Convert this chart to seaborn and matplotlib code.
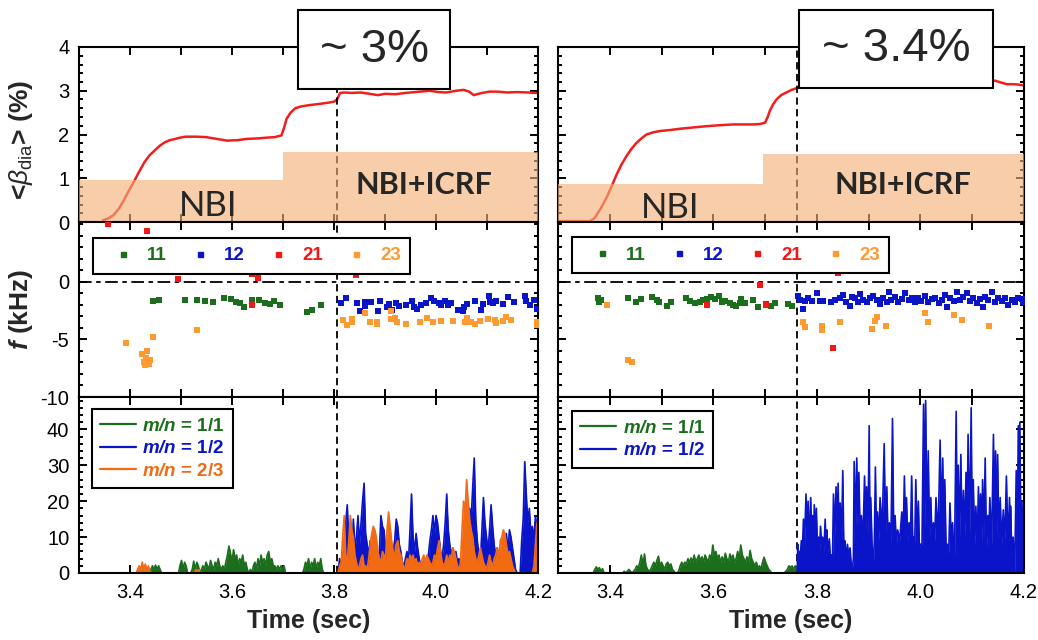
import numpy as np
import matplotlib
matplotlib.use("Agg")
import matplotlib.pyplot as plt
import seaborn as sns
from matplotlib.lines import Line2D
from matplotlib.patches import Rectangle

# ---------------- data ----------------
# top row: diamagnetic beta (%)
L_beta_t = [3.347, 3.357, 3.367, 3.378, 3.388, 3.398, 3.408, 3.418, 3.428, 3.438, 3.448, 3.458, 3.468,
            3.478, 3.489, 3.499, 3.509, 3.53, 3.549, 3.57, 3.59, 3.61, 3.63, 3.65, 3.67, 3.684, 3.697,
            3.702, 3.707, 3.715, 3.724, 3.735, 3.751, 3.765, 3.778, 3.79, 3.80, 3.806, 3.812, 3.82,
            3.835, 3.852, 3.87, 3.886, 3.90, 3.92, 3.94, 3.96, 3.987, 4.005, 4.02, 4.04, 4.054, 4.065,
            4.074, 4.09, 4.105, 4.12, 4.14, 4.16, 4.18, 4.198]
L_beta_v = [0.04, 0.08, 0.15, 0.3, 0.5, 0.72, 0.93, 1.15, 1.36, 1.52, 1.63, 1.74, 1.82, 1.87, 1.9,
            1.93, 1.95, 1.95, 1.94, 1.9, 1.86, 1.87, 1.9, 1.91, 1.93, 1.94, 1.98, 2.15, 2.36, 2.5, 2.6,
            2.64, 2.67, 2.69, 2.71, 2.73, 2.75, 2.8, 2.95, 2.96, 2.95, 2.96, 2.93, 2.9, 2.93, 2.92,
            2.95, 2.97, 3.0, 2.97, 2.96, 3.0, 3.02, 2.98, 2.9, 2.95, 2.98, 2.98, 2.96, 2.97, 2.96, 2.95]
R_beta_t = [3.30, 3.32, 3.34, 3.361, 3.368, 3.374, 3.383, 3.393, 3.403, 3.413, 3.422, 3.432, 3.441,
            3.451, 3.461, 3.471, 3.484, 3.497, 3.515, 3.535, 3.56, 3.587, 3.61, 3.638, 3.66, 3.677,
            3.69, 3.70, 3.705, 3.709, 3.715, 3.722, 3.731, 3.741, 3.751, 3.761, 3.78, 3.82, 3.87,
            3.92, 3.97, 4.02, 4.07, 4.11, 4.135, 4.144, 4.155, 4.167, 4.18, 4.19, 4.2]
R_beta_v = [0.02, 0.02, 0.02, 0.02, 0.06, 0.15, 0.32, 0.54, 0.8, 1.08, 1.3, 1.5, 1.66, 1.8, 1.91, 2.0,
            2.05, 2.08, 2.1, 2.13, 2.16, 2.19, 2.21, 2.23, 2.23, 2.23, 2.24, 2.27, 2.4, 2.54, 2.68, 2.8,
            2.9, 2.96, 3.02, 3.06, 3.15, 3.25, 3.32, 3.35, 3.36, 3.35, 3.32, 3.28, 3.25, 3.23, 3.19,
            3.15, 3.15, 3.14, 3.12]
# heating power bands (NBI, then NBI+ICRF)
L_band_t = [3.3, 3.7, 4.2]
L_band_v = [0.95, 1.6, 1.6]
R_band_t = [3.3, 3.695, 4.2]
R_band_v = [0.88, 1.55, 1.55]
L_icrf_t = 3.805
R_icrf_t = 3.762
beta_labels = ["~ 3%", "~ 3.4%"]

# middle row: mode frequency (kHz)
L11_ft = [3.445, 3.456, 3.507, 3.532, 3.548, 3.563, 3.584, 3.599, 3.607, 3.616, 3.624, 3.640, 3.653,
          3.665, 3.675, 3.682, 3.695, 3.747, 3.757, 3.774]
L11_f = [-1.70, -1.61, -1.55, -1.55, -1.67, -1.78, -1.37, -1.49, -1.75, -1.84, -2.19, -1.61, -1.55,
         -1.81, -1.93, -1.70, -1.99, -2.63, -2.40, -2.05]
L12_ft = [3.814, 3.824, 3.845, 3.850, 3.860, 3.861, 3.873, 3.886, 3.891, 3.903, 3.907, 3.914, 3.922,
          3.927, 3.942, 3.952, 3.957, 3.963, 3.971, 3.981, 3.990, 3.996, 4.006, 4.010, 4.017, 4.024,
          4.029, 4.044, 4.052, 4.055, 4.061, 4.076, 4.089, 4.092, 4.104, 4.105, 4.112, 4.117, 4.131,
          4.142, 4.153, 4.174, 4.177, 4.184, 4.193, 4.199]
L12_f = [-1.84, -1.40, -1.84, -2.49, -1.75, -2.11, -1.75, -2.54, -1.67, -2.19, -1.96, -2.40, -1.81,
         -2.11, -1.99, -1.70, -2.19, -2.34, -2.05, -1.84, -1.40, -1.67, -1.81, -2.05, -1.70, -1.99,
         -1.84, -2.40, -2.49, -2.14, -1.90, -1.67, -2.40, -1.90, -1.26, -1.75, -1.84, -1.70, -1.90,
         -1.32, -1.75, -1.23, -1.70, -2.05, -1.61, -2.34]
L21_ft = [3.357, 3.434, 3.495, 3.640, 3.651, 3.640, 3.843]
L21_f = [5.05, 4.45, 0.26, 0.72, 0.32, -1.98, 0.63]
L23_ft = [3.393, 3.445, 3.424, 3.434, 3.427, 3.437, 3.431, 3.439, 3.430, 3.532,
          3.818, 3.826, 3.835, 3.835, 3.860, 3.870, 3.885, 3.885, 3.911, 3.911, 3.920, 3.924, 3.942,
          3.968, 3.982, 3.994, 4.009, 4.033, 4.056, 4.061, 4.069, 4.076, 4.086, 4.102, 4.115, 4.117,
          4.131, 4.138, 4.148, 4.199, 4.199]
L23_f = [-5.27, -4.81, -6.3, -6.0, -7.0, -7.1, -6.6, -6.8, -7.2, -4.16,
         -3.27, -3.74, -3.22, -3.51, -2.69, -3.51, -3.45, -3.65, -2.57, -3.22, -3.16, -3.51, -3.65,
         -3.51, -3.13, -3.51, -3.36, -3.36, -3.51, -3.16, -3.51, -3.65, -3.42, -3.22, -3.30, -3.60,
         -3.36, -3.07, -3.30, -3.45, -3.74]

R11_ft = [3.377, 3.380, 3.384, 3.435, 3.451, 3.461, 3.482, 3.492, 3.496, 3.511, 3.519, 3.548, 3.554,
          3.565, 3.574, 3.580, 3.587, 3.595, 3.603, 3.610, 3.616, 3.622, 3.632, 3.638, 3.644, 3.651,
          3.654, 3.661, 3.677, 3.686, 3.702, 3.712, 3.719, 3.744, 3.751]
R11_f = [-1.37, -1.71, -1.57, -1.43, -1.71, -1.51, -1.29, -1.57, -1.71, -2.06, -1.71, -1.43, -1.66,
         -1.80, -1.71, -1.57, -1.49, -1.31, -1.49, -1.20, -1.71, -1.66, -1.86, -2.00, -2.06, -1.80,
         -1.49, -1.86, -1.57, -2.14, -1.94, -2.06, -1.80, -1.91, -2.06]
R12_ft = [3.764, 3.767, 3.774, 3.777, 3.783, 3.790, 3.800, 3.806, 3.812, 3.828, 3.835, 3.845, 3.851,
          3.857, 3.863, 3.867, 3.874, 3.880, 3.883, 3.890, 3.896, 3.903, 3.909, 3.917, 3.922, 3.928,
          3.935, 3.940, 3.944, 3.951, 3.957, 3.964, 3.970, 3.977, 3.983, 3.989, 3.996, 4.002, 4.009,
          4.015, 4.022, 4.028, 4.035, 4.041, 4.047, 4.052, 4.057, 4.064, 4.070, 4.076, 4.083, 4.089,
          4.096, 4.102, 4.109, 4.115, 4.120, 4.125, 4.131, 4.138, 4.144, 4.150, 4.157, 4.163, 4.170,
          4.176, 4.183, 4.189, 4.196, 4.199]
R12_f = [-1.20, -1.57, -2.34, -1.63, -1.43, -1.63, -0.94, -1.63, -1.63, -1.71, -1.57, -1.43, -1.14,
         -1.71, -2.09, -1.29, -1.43, -1.71, -1.06, -1.57, -1.77, -1.43, -1.20, -1.57, -1.91, -1.43,
         -1.71, -0.91, -1.57, -1.29, -1.71, -1.49, -1.00, -1.57, -1.37, -1.71, -1.43, -1.66, -1.20,
         -1.71, -1.49, -1.37, -1.86, -1.57, -1.14, -2.14, -1.43, -1.66, -0.91, -1.57, -1.29, -1.00,
         -1.66, -1.37, -1.86, -1.49, -2.14, -1.29, -1.57, -0.91, -1.71, -1.43, -1.66, -1.37, -2.00,
         -1.57, -1.71, -1.37, -1.49, -1.71]
R21_ft = [3.691, 3.588, 3.702, 3.841, 3.831]
R21_f = [-0.23, -2.00, -2.00, 0.77, -5.77]
R23_ft = [3.395, 3.435, 3.442, 3.774, 3.778, 3.809, 3.810, 3.845, 3.906, 3.912, 3.917, 3.933, 4.009,
          4.014, 4.065, 4.081, 4.132]
R23_f = [-2.00, -6.80, -6.97, -3.51, -3.91, -3.86, -4.20, -3.51, -4.06, -3.37, -3.09, -3.80, -2.71,
         -3.51, -2.86, -3.29, -3.86]
mode_labels = ["11", "12", "21", "23"]

# bottom row: mode amplitudes (sampled every 3 ms from the given start time)
dt = 0.003
L11_t0 = 3.435
L11_amp = [0, 0, 1, 2, 1, 2.2, 1, 2, 1, 0, 0, 0, 0, 0, 0, 0, 0, 0, 0, 0,
           0, 2, 3.5, 1, 3, 2, 0, 0, 0, 1, 3.3, 1, 3, 2, 0, 1, 2, 1, 3, 2,
           1, 3.5, 2, 1, 3, 2, 4, 2, 1, 2, 1, 3, 5, 7.5, 5.5, 3, 6.5, 4, 5, 2,
           4, 3, 5, 2, 3, 1, 0, 1, 0, 2, 3, 1, 4, 2, 5, 3, 4, 2, 5, 6,
           3, 4, 2, 2, 1, 2, 1, 2, 1, 2, 0, 0, 0, 0, 0, 0, 0, 0, 0, 0,
           0, 0, 1, 3, 2, 4, 1, 3, 2, 4, 1, 3, 2, 4, 1, 0]
L12_t0 = 3.808
L12_amp = [0, 4, 2, 6, 3, 14, 19, 9, 12, 6, 15, 7, 10, 16, 8, 14, 20, 25, 11, 8,
           5, 9, 4, 2, 3, 1, 3, 6, 16, 13, 12, 7, 4, 2, 5, 8, 6, 9, 15, 13,
           8, 6, 3, 2, 4, 6, 3, 12, 22, 10, 6, 11, 7, 4, 2, 3, 1, 3, 2, 5,
           9, 12, 16, 11, 16, 14, 10, 6, 4, 8, 14, 22, 12, 8, 5, 7, 4, 6, 3, 4,
           2, 3, 2, 8, 5, 12, 18, 15, 24, 32, 15, 9, 5, 3, 12, 21, 14, 10, 6, 12,
           19, 13, 8, 5, 7, 5, 3, 6, 4, 9, 11, 6, 12, 10, 7, 4, 1, 0, 0, 0,
           9, 15, 31, 22, 14, 18, 11, 13, 9, 16, 12]
L23_t0a = 3.412
L23_amp_a = [0, 1, 2, 1, 3, 1, 2.5, 1, 2, 0.5, 0]
L23_t0b = 3.526
L23_amp_b = [0, 1, 0.5, 1, 0]
L23_t0c = 3.808
L23_amp_c = [0, 2, 3, 10, 16, 5, 3, 9, 16, 12, 10, 5, 3, 1, 2, 4, 5, 2, 2, 1,
             4, 8, 11, 13, 12, 10, 6, 4, 3, 6, 5, 4, 12, 17, 13, 9, 6, 5, 8, 9,
             6, 5, 3, 1, 2, 4, 3, 5, 4, 5, 3, 4, 2, 3, 2, 4, 5, 3, 5, 4,
             3, 2, 3, 5, 4, 7, 9, 6, 3, 2, 3, 5, 3, 5, 4, 7, 6, 4, 2, 1,
             3, 12, 20, 17, 26, 20, 15, 12, 10, 6, 4, 3, 5, 7, 5, 3, 2, 1, 3, 5,
             3, 2, 4, 5, 7, 4, 9, 10, 12, 11, 8, 5, 6, 4, 2, 1, 0, 0, 0, 0,
             0, 0, 0, 0, 0, 0, 0, 0, 2, 8, 14]
R11_t0 = 3.368
R11_amp = [0, 1, 1.7, 1, 1.5, 0.5, 1.2, 0, 0, 0, 0, 0, 0, 0, 0, 0, 0, 0, 0, 0,
           0.5, 0, 0.5, 1, 0.5, 0, 0.5, 1, 2, 1.5, 3, 5, 2, 5.3, 2, 1, 0.5, 1, 2, 3,
           2, 3.5, 4.7, 2, 3, 2, 1, 2.5, 3, 2, 2.5, 1, 0.5, 0, 0, 0.5, 2, 3, 2, 3,
           2.5, 4, 3, 4.2, 3, 5, 3, 4, 5, 3.5, 4.5, 3, 5, 4, 3, 5, 4, 7.8, 5, 6,
           4, 5, 3, 4.5, 3, 5.5, 4, 3, 5.3, 4, 5, 3, 4, 6, 4, 7.8, 5, 4, 3, 4.5,
           3, 6.3, 4, 3, 2, 3, 1.5, 2, 1, 3, 4.4, 3, 2, 1, 0.5, 0, 0, 0, 0, 0,
           0, 0, 0, 0, 0.5, 1, 2, 1.5, 2, 1, 2, 1.5]
R12_t = [3.762, 3.763, 3.7645, 3.766, 3.768, 3.770, 3.772, 3.774, 3.776, 3.779, 3.781, 3.783, 3.785,
         3.788, 3.790, 3.792, 3.7935, 3.795, 3.797, 3.799, 3.801, 3.803, 3.805, 3.807, 3.809, 3.811,
         3.8135, 3.816, 3.8175, 3.819, 3.821, 3.824, 3.826, 3.828, 3.830, 3.832, 3.8345, 3.837, 3.839,
         3.841, 3.843, 3.845, 3.8475, 3.850, 3.852, 3.854, 3.8565, 3.859, 3.861, 3.864, 3.8665, 3.869,
         3.8705, 3.872, 3.8745, 3.877, 3.879, 3.881, 3.8835, 3.886, 3.889, 3.892, 3.894, 3.896, 3.8985,
         3.901, 3.9025, 3.904, 3.9065, 3.909, 3.911, 3.913, 3.915, 3.917, 3.9195, 3.922, 3.926, 3.930,
         3.9325, 3.935, 3.9375, 3.940, 3.943, 3.946, 3.9485, 3.951, 3.9535, 3.956, 3.960, 3.964, 3.9665,
         3.969, 3.971, 3.973, 3.9755, 3.978, 3.9805, 3.983, 3.985, 3.987, 3.989, 3.991, 3.9935, 3.996,
         3.998, 4.000, 4.003, 4.006, 4.008, 4.010, 4.0125, 4.015, 4.0175, 4.020, 4.0225, 4.025, 4.0275,
         4.030, 4.034, 4.038, 4.0405, 4.043, 4.045, 4.047, 4.0495, 4.052, 4.0545, 4.057, 4.0595, 4.062,
         4.0655, 4.069, 4.071, 4.073, 4.0755, 4.078, 4.0805, 4.083, 4.0855, 4.088, 4.090, 4.092, 4.095,
         4.098, 4.100, 4.102, 4.1045, 4.107, 4.1095, 4.112, 4.114, 4.116, 4.118, 4.120, 4.1225, 4.125,
         4.1275, 4.130, 4.132, 4.134, 4.1375, 4.141, 4.143, 4.145, 4.147, 4.149, 4.1515, 4.154, 4.157,
         4.160, 4.163, 4.166, 4.169, 4.172, 4.173, 4.174, 4.1765, 4.179, 4.182, 4.185, 4.187, 4.189,
         4.1905, 4.192, 4.194, 4.196, 4.198, 4.2]
R12_amp = [0, 8, 5, 6, 5, 9, 6, 15, 8, 22, 10, 20, 8, 21, 9, 16, 9, 19, 10, 18, 7, 10, 6, 13, 8, 10,
           6, 15, 8, 12, 6, 9.5, 4, 5, 2, 22, 10, 24, 11, 25, 10, 19.5, 9, 28.5, 7, 9, 4, 8, 5, 7, 2, 2,
           4, 31, 12, 32, 13, 28, 11, 16, 9, 27, 12, 24, 10, 41, 11, 21, 8, 2, 9, 29.5, 10, 17, 9, 21,
           12, 36, 11, 24, 9, 14, 8, 43, 10, 16, 8, 12, 9, 17, 9, 27, 11, 21, 9, 14, 8, 27, 10, 10, 8,
           26, 10, 20, 7, 8, 8, 47, 12, 48, 12, 34, 10, 21, 8, 14, 9, 21, 10, 37, 12, 32, 11, 26, 7, 8,
           5, 19.5, 9, 14, 0, 45, 12, 30, 10, 33, 9, 23, 10, 28, 9, 38.6, 11, 46, 10, 26, 8, 18.6, 7,
           24, 9, 22, 8, 26, 10, 32, 7, 16, 9, 21, 8, 38.6, 11, 34, 10, 33, 9, 21, 8, 17.6, 9, 27, 8,
           21, 10, 18.6, 5, 10, 0, 28.5, 9, 41, 12, 42, 10, 20, 9, 15]
amp_labels = ["1/1", "1/2", "2/3"]

# ---------------- style ----------------
sns.set_style("ticks")
plt.rcParams["font.family"] = ["Liberation Sans", "DejaVu Sans"]
plt.rcParams["axes.unicode_minus"] = False
plt.rcParams["mathtext.fontset"] = "custom"
plt.rcParams["mathtext.rm"] = "Liberation Sans"
plt.rcParams["mathtext.it"] = "Liberation Sans:italic"
plt.rcParams["mathtext.bf"] = "Liberation Sans:bold"
HAS_BFIT = "mathtext.bfit" in matplotlib.rcParams.keys()
if HAS_BFIT:
    plt.rcParams["mathtext.bfit"] = "Liberation Sans:italic:bold"
BFI = (lambda s: r"$\mathbfit{%s}$" % s) if HAS_BFIT else (lambda s: r"$\mathit{%s}$" % s)

C_GREEN = "#1b6e1b"
C_BLUE = "#0a14c8"
C_RED = "#f21818"
C_ORANGE_PT = "#ff9a30"
C_ORANGE_LN = "#f26a12"
C_BETA = "#f21d1d"
C_BAND = "#f5af76"

W, H = 1038, 640
fig = plt.figure(figsize=(W / 100, H / 100), dpi=100)


def px_axes(x0, x1, y0, y1):
    return fig.add_axes([x0 / W, 1 - y1 / H, (x1 - x0) / W, (y1 - y0) / H])


cols = [(79, 538), (558, 1024)]
rows = [(47, 222), (222, 397), (397, 573)]
axes = [[px_axes(c[0], c[1], r[0], r[1]) for c in cols] for r in rows]


def style(ax, show_x, show_y):
    for s in ax.spines.values():
        s.set_linewidth(1.5)
        s.set_color("k")
    ax.set_xlim(3.3, 4.2)
    ax.set_xticks([3.4, 3.6, 3.8, 4.0, 4.2])
    ax.set_xticks([3.3, 3.5, 3.7, 3.9, 4.1], minor=True)
    ax.xaxis.set_major_formatter("{x:.1f}")
    ax.tick_params(which="both", direction="in", top=True, right=True, width=1.4, colors="k",
                   labelsize=14.5, pad=7)
    ax.tick_params(which="major", length=5.5)
    ax.tick_params(which="minor", length=3)
    ax.tick_params(axis="x", which="minor", length=5.5)
    ax.tick_params(axis="x", labelbottom=show_x)
    ax.tick_params(axis="y", labelleft=show_y)
    ax.set_xlabel("")
    ax.set_ylabel("")


def trace(ax, t, v, color, z):
    sns.lineplot(x=t, y=v, ax=ax, color=color, lw=1.2, estimator=None, sort=False, zorder=z)
    ax.fill_between(t, v, 0, color=color, lw=0, zorder=z)


# ---- top row ----
for j, (bt, bv, lt, lv, ti) in enumerate([(L_band_t, L_band_v, L_beta_t, L_beta_v, L_icrf_t),
                                           (R_band_t, R_band_v, R_beta_t, R_beta_v, R_icrf_t)]):
    ax = axes[0][j]
    sns.lineplot(x=lt, y=lv, ax=ax, color=C_BETA, lw=1.8, estimator=None, sort=False, zorder=2)
    ax.fill_between(bt, bv, step="post", color=C_BAND, alpha=0.62, lw=0, zorder=3)
    ax.axvline(ti, color="k", ls=(0, (4, 2.5)), lw=1.3, zorder=2)
    ax.set_ylim(0, 4)
    ax.set_yticks([0, 1, 2, 3, 4])
    ax.set_yticks(np.arange(0, 4.01, 0.2), minor=True)
    style(ax, False, j == 0)
    ax.spines["bottom"].set_zorder(2)

axes[0][0].text(3.553, 0.36, "NBI", fontsize=25, family="Lato", ha="center", va="center", zorder=5)
axes[0][0].text(3.977, 0.84, "NBI+ICRF", fontsize=22, family="Lato", weight="bold",
                ha="center", va="center", zorder=5)
axes[0][1].text(3.516, 0.33, "NBI", fontsize=25, family="Lato", ha="center", va="center", zorder=5)
axes[0][1].text(3.966, 0.84, "NBI+ICRF", fontsize=22, family="Lato", weight="bold",
                ha="center", va="center", zorder=5)

# ---- middle row ----
mid = [
    [(L11_ft, L11_f, C_GREEN), (L12_ft, L12_f, C_BLUE), (L23_ft, L23_f, C_ORANGE_PT), (L21_ft, L21_f, C_RED)],
    [(R11_ft, R11_f, C_GREEN), (R12_ft, R12_f, C_BLUE), (R23_ft, R23_f, C_ORANGE_PT), (R21_ft, R21_f, C_RED)],
]
mode_colors = [C_GREEN, C_BLUE, C_RED, C_ORANGE_PT]
for j in range(2):
    ax = axes[1][j]
    for xs, ys, c in mid[j]:
        sns.scatterplot(x=xs, y=ys, ax=ax, marker="s", s=16, color=c, linewidth=0, zorder=3)
    ax.axhline(0, color="k", ls=(0, (7, 2.5, 2.5, 2.5)), lw=1.3, zorder=2)
    ax.axvline([L_icrf_t, R_icrf_t][j], color="k", ls=(0, (4, 2.5)), lw=1.3, zorder=2)
    ax.set_ylim(-10, 5.2)
    ax.set_yticks([-10, -5, 0])
    ax.set_yticks(np.arange(-10, 5.1, 1), minor=True)
    style(ax, False, j == 0)
    handles = [Line2D([], [], marker="s", ls="none", color=c, markersize=3.6, label=l)
               for c, l in zip(mode_colors, mode_labels)]
    leg = ax.legend(handles=handles, ncol=4, loc="upper left",
                    bbox_to_anchor=([0.030, 0.030][j], [0.909, 0.914][j]),
                    frameon=True, fancybox=False, edgecolor="k", framealpha=1,
                    prop={"weight": "bold", "size": 13.5}, labelcolor="linecolor",
                    handlelength=2.2, handletextpad=0.2, columnspacing=0.65,
                    borderpad=0.5, borderaxespad=0)
    leg.get_frame().set_linewidth(1.5)
    leg.set_zorder(6)

# ---- bottom row ----
ax = axes[2][0]
trace(ax, L11_t0 + dt * np.arange(len(L11_amp)), L11_amp, C_GREEN, 2.1)
trace(ax, L12_t0 + dt * np.arange(len(L12_amp)), L12_amp, C_BLUE, 2.2)
for t0, amp in [(L23_t0a, L23_amp_a), (L23_t0b, L23_amp_b), (L23_t0c, L23_amp_c)]:
    trace(ax, t0 + dt * np.arange(len(amp)), amp, C_ORANGE_LN, 2.3)
ax = axes[2][1]
trace(ax, R11_t0 + dt * np.arange(len(R11_amp)), R11_amp, C_GREEN, 2.1)
trace(ax, R12_t, R12_amp, C_BLUE, 2.2)

amp_colors = [C_GREEN, C_BLUE, C_ORANGE_LN]
for j in range(2):
    ax = axes[2][j]
    ax.axvline([L_icrf_t, R_icrf_t][j], color="k", ls=(0, (4, 2.5)), lw=1.3, zorder=2)
    ax.set_ylim(0, 49)
    ax.set_yticks([0, 10, 20, 30, 40])
    ax.set_yticks(np.arange(0, 49, 2), minor=True)
    style(ax, True, j == 0)
    ax.set_xlabel("Time (sec)", fontsize=18, weight="bold", labelpad=5)
    n = 3 if j == 0 else 2
    handles = [Line2D([], [], color=c, lw=1.6, label=BFI("m/n") + " = " + l)
               for c, l in zip(amp_colors[:n], amp_labels[:n])]
    leg = ax.legend(handles=handles, loc="upper left",
                    bbox_to_anchor=([0.028, 0.030][j], [0.932, 0.920][j]),
                    frameon=True, fancybox=False, edgecolor="k", framealpha=1,
                    prop={"weight": "bold", "size": 13.5}, labelcolor="linecolor",
                    handlelength=1.9, handletextpad=0.35, labelspacing=0.3,
                    borderpad=0.45, borderaxespad=0)
    leg.get_frame().set_linewidth(1.5)
    leg.set_zorder(6)

# y labels
axes[0][0].set_ylabel(r"<$\mathit{\beta}_{\mathrm{dia}}$> (%)", fontsize=19, weight="bold")
axes[0][0].yaxis.set_label_coords(-0.095, 0.47)
axes[1][0].set_ylabel(BFI("f") + " (kHz)", fontsize=19, weight="bold")
axes[1][0].yaxis.set_label_coords(-0.095, 0.5)

# value boxes above the top panels
for (x0, x1, y0, y1), s in zip([(298, 450, 10, 89), (799, 993, 10, 88)], beta_labels):
    fig.add_artist(Rectangle((x0 / W, 1 - y1 / H), (x1 - x0) / W, (y1 - y0) / H,
                             transform=fig.transFigure, facecolor="white", edgecolor="k",
                             lw=1.5, zorder=10))
    fig.text((x0 + x1) / 2 / W, 1 - (y0 + y1) / 2 / H, s, ha="center", va="center",
             fontsize=34, zorder=11)

fig.savefig("out.png", dpi=100)
